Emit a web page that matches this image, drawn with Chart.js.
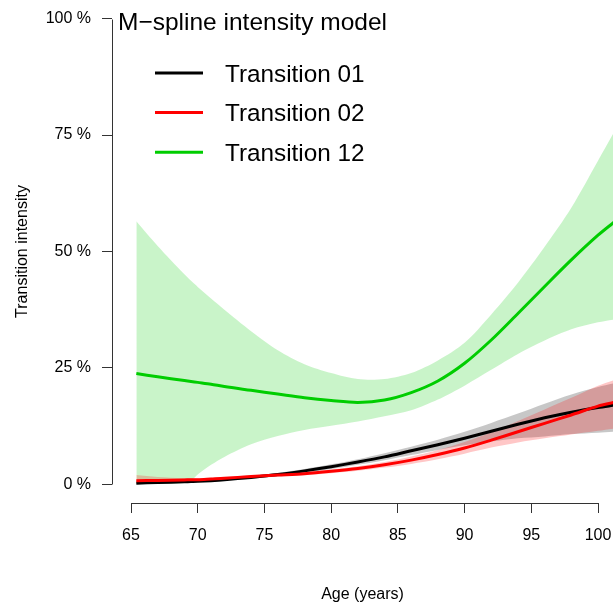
<!DOCTYPE html>
<html><head><meta charset="utf-8">
<script src="https://cdn.jsdelivr.net/npm/chart.js@4/dist/chart.umd.min.js"></script>
<style>html,body{margin:0;padding:0;background:#fff;} canvas{display:block;}</style>
</head><body>
<canvas id="c" width="613" height="605"></canvas>
<script>
// ---- data (percent) ----
const ages   = [65.4, 67, 69, 69.5, 70, 71, 72, 74, 76, 78, 80, 82, 84, 86, 88, 90, 92, 94, 96, 98, 100, 101.2];
const t01    = [0.25,0.4,0.55,0.6,0.65,0.8,1.0,1.5,2.1,2.9,3.8,4.8,5.9,7.2,8.5,9.9,11.4,12.9,14.3,15.5,16.5,17.0];
const t01Lo  = [0.1,0.2,0.35,0.4,0.45,0.55,0.75,1.2,1.75,2.5,3.3,4.2,5.2,6.3,7.4,8.4,9.2,9.9,10.3,10.8,11.1,11.3];
const t01Hi  = [0.45,0.6,0.8,0.85,0.9,1.05,1.3,1.8,2.45,3.3,4.3,5.4,6.7,8.1,9.6,11.3,13.2,15.2,17.3,19.3,20.9,21.7];
const t02    = [0.8,0.85,0.95,1.0,1.0,1.15,1.3,1.7,2.0,2.3,2.8,3.4,4.2,5.2,6.4,7.8,9.5,11.3,13.1,14.9,16.8,17.6];
const t02Lo  = [0.3,0.4,0.55,0.6,0.65,0.8,0.95,1.35,1.7,2.0,2.4,2.9,3.6,4.4,5.4,6.6,7.9,9.0,9.9,10.7,11.5,12.0];
const t02Hi  = [2.0,1.6,1.35,1.3,1.3,1.4,1.55,1.95,2.3,2.7,3.2,3.9,4.8,6.0,7.4,9.1,11.2,13.6,16.1,18.6,21.2,22.4];
const t12    = [23.8,23.1,22.3,22.1,21.9,21.5,21.0,20.2,19.4,18.6,18.0,17.6,18.1,19.7,22.2,26.0,31.0,36.7,42.5,48.2,53.5,56.3];
const t12Lo  = [0.2,0.2,0.3,0.8,2.1,4.2,5.9,8.6,10.4,11.7,12.6,13.5,14.6,15.9,18.2,21.2,24.6,28.0,30.9,33.3,34.8,35.4];
const t12Hi  = [56.5,51.2,45.1,43.7,42.4,39.9,37.5,32.9,28.8,25.8,23.9,22.6,22.6,23.9,26.6,30.4,36.5,43.3,51.0,59.4,69.5,75.6];
const xTicks = [65, 70, 75, 80, 85, 90, 95, 100];
const yTicks = [0, 25, 50, 75, 100];
const seriesNames = ['Transition 01', 'Transition 02', 'Transition 12'];
const titleText = 'M\u2212spline intensity model';

const FONT = '"Liberation Sans", Arial, Helvetica, sans-serif';
const COL = ['#000000', '#FF0000', '#00CD00'];
const BAND = ['rgba(0,0,0,0.22)', 'rgba(255,0,0,0.22)', 'rgba(0,205,0,0.21)'];

const pts = arr => ages.map((a, i) => ({x: a, y: arr[i]}));
const common = {pointRadius: 0, pointHoverRadius: 0, tension: 0.3};
function band(lo, hi, color, order) {
  return [
    Object.assign({data: pts(lo), borderWidth: 0, borderColor: 'rgba(0,0,0,0)', fill: false, order}, common),
    Object.assign({data: pts(hi), borderWidth: 0, borderColor: 'rgba(0,0,0,0)', fill: '-1', backgroundColor: color, order}, common)
  ];
}
function line(v, color, order) {
  return Object.assign({data: pts(v), borderWidth: 3, borderColor: color, fill: false, order}, common);
}

const datasets = [
  ...band(t12Lo, t12Hi, BAND[2], 30),
  ...band(t01Lo, t01Hi, BAND[0], 22),
  ...band(t02Lo, t02Hi, BAND[1], 21),
  line(t12, COL[2], 3),
  line(t01, COL[0], 2),
  line(t02, COL[1], 1)
];

const decor = {
  id: 'decor',
  afterDraw(chart) {
    const {ctx, scales: {x, y}} = chart;
    ctx.save();
    ctx.strokeStyle = '#333';
    ctx.lineWidth = 1;
    const ax = Math.round(chart.chartArea.left) + 0.5;
    ctx.beginPath();
    ctx.moveTo(ax, Math.round(y.getPixelForValue(yTicks[0])) + 0.5);
    ctx.lineTo(ax, Math.round(y.getPixelForValue(yTicks[yTicks.length - 1])) + 0.5);
    ctx.stroke();
    const ay = Math.round(chart.chartArea.bottom) + 0.5;
    ctx.beginPath();
    ctx.moveTo(Math.round(x.getPixelForValue(xTicks[0])) + 0.5, ay);
    ctx.lineTo(Math.round(x.getPixelForValue(xTicks[xTicks.length - 1])) + 0.5, ay);
    ctx.stroke();
    ctx.fillStyle = '#000';
    ctx.font = '24.5px ' + FONT;
    ctx.textAlign = 'left';
    ctx.textBaseline = 'alphabetic';
    ctx.fillText(titleText, 118, 29.5);
    const ly = [73, 112.5, 152.3];
    for (let i = 0; i < 3; i++) {
      ctx.strokeStyle = COL[i];
      ctx.lineWidth = 3;
      ctx.beginPath();
      ctx.moveTo(155, ly[i]);
      ctx.lineTo(203, ly[i]);
      ctx.stroke();
      ctx.fillStyle = '#000';
      ctx.font = '24.3px ' + FONT;
      ctx.fillText(seriesNames[i], 225, ly[i] + 8.8);
    }
    ctx.restore();
  }
};

new Chart(document.getElementById('c'), {
  type: 'line',
  data: {datasets},
  plugins: [decor],
  options: {
    responsive: false,
    animation: false,
    devicePixelRatio: 1,
    layout: {padding: 0},
    plugins: {legend: {display: false}, tooltip: {enabled: false}, title: {display: false}},
    scales: {
      x: {
        type: 'linear', min: 63.576, max: 101.124,
        afterBuildTicks: s => { s.ticks = xTicks.map(v => ({value: v})); },
        ticks: {font: {family: FONT, size: 16}, color: '#000', padding: 13, maxRotation: 0, autoSkip: false,
                callback: v => String(v)},
        grid: {drawOnChartArea: false, drawTicks: true, tickLength: 10, color: '#333', lineWidth: 1},
        border: {display: false},
        title: {display: true, text: 'Age (years)', font: {family: FONT, size: 16}, color: '#000', padding: {top: 0, bottom: 1}},
        afterFit: s => { s.height = 102; s.paddingLeft = 0; s.paddingRight = 0; }
      },
      y: {
        type: 'linear', min: -4, max: 104,
        afterBuildTicks: s => { s.ticks = yTicks.map(v => ({value: v})); },
        ticks: {font: {family: FONT, size: 16}, color: '#000', padding: 11, autoSkip: false,
                callback: v => v + ' %'},
        grid: {drawOnChartArea: false, drawTicks: true, tickLength: 10, color: '#333', lineWidth: 1},
        border: {display: false},
        title: {display: true, text: 'Transition intensity', font: {family: FONT, size: 16}, color: '#000', padding: {top: 13, bottom: 0}},
        afterFit: s => { s.width = 112; s.paddingTop = 0; s.paddingBottom = 0; }
      }
    }
  }
});
</script>
</body></html>
